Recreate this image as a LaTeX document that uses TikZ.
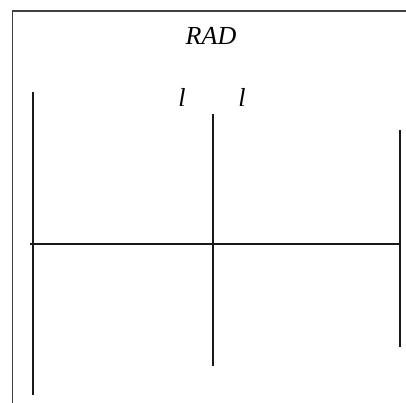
\documentclass[tikz,border=0pt]{standalone}
\usepackage{fontspec}
\setmainfont{Liberation Serif}[ItalicFont={Liberation Serif Italic}]
\begin{document}
\begin{tikzpicture}[x=1pt,y=-1pt,
  bar/.style={line width=2pt,draw=black!90},
  frame/.style={line width=1.4pt,draw=black!75},
  lab/.style={font=\fontsize{26}{28}\selectfont\itshape,inner sep=0pt}]
\useasboundingbox (0,0) rectangle (406,403);
\draw[frame] (12.5,403) -- (12.5,11) -- (406,11);
\coordinate (l1) at (33,92);   \coordinate (l2) at (33,395);
\coordinate (m1) at (213,114); \coordinate (m2) at (213,366);
\coordinate (r1) at (399.5,130); \coordinate (r2) at (399.5,347);
\coordinate (h1) at (30,243.5); \coordinate (h2) at (400,243.5);
\draw[bar] (l1) -- (l2);
\draw[bar] (m1) -- (m2);
\draw[bar] (r1) -- (r2);
\draw[bar] (h1) -- (h2);
\node[lab,anchor=base] (rad) at (211,45) {RAD};
\node[lab,anchor=base] (la) at (182,107) {l};
\node[lab,anchor=base] (lb) at (242,107) {l};
\end{tikzpicture}
\end{document}
